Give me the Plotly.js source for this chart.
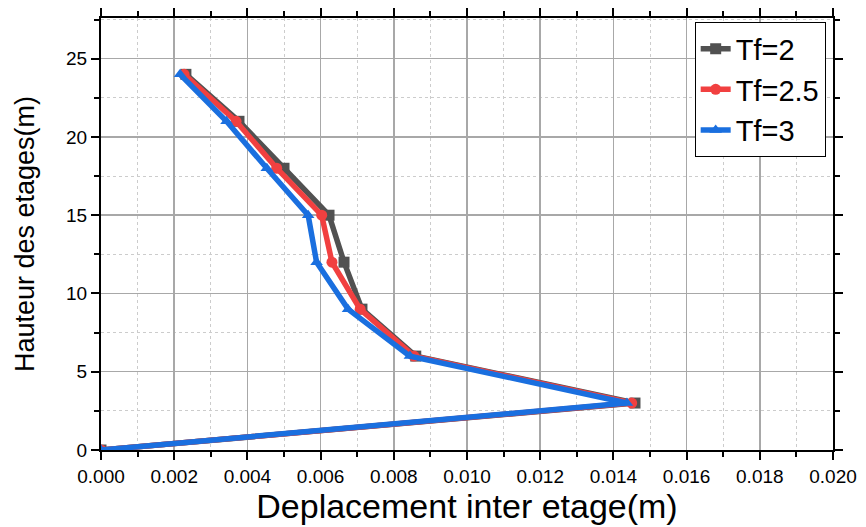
<!DOCTYPE html>
<html>
<head>
<meta charset="utf-8">
<script src="https://cdn.plot.ly/plotly-3.0.1.min.js"></script>
<style>html,body{margin:0;padding:0;background:#fff;}#chart{width:866px;height:527px;}</style>
</head>
<body>
<div id="chart"></div>
<script>
const heights = [0, 3, 6, 9, 12, 15, 18, 21, 24];
const tf2   = [0, 0.01459, 0.0086, 0.00713, 0.00664, 0.00623, 0.0050, 0.00377, 0.00232];
const tf25  = [0, 0.0145, 0.00855, 0.00708, 0.00631, 0.00603, 0.0048, 0.00369, 0.00227];
const tf3   = [0, 0.01437, 0.00844, 0.00675, 0.00589, 0.00566, 0.00453, 0.00343, 0.00216];
const seriesNames = ['Tf=2', 'Tf=2.5', 'Tf=3'];
const colors = ['#515151', '#F14040', '#1A6FDF'];
const symbols = ['square', 'circle', 'triangle-up'];
const xTickVals = [0, 0.002, 0.004, 0.006, 0.008, 0.010, 0.012, 0.014, 0.016, 0.018, 0.020];
const xTickText = ['0.000','0.002','0.004','0.006','0.008','0.010','0.012','0.014','0.016','0.018','0.020'];
const yTickVals = [0, 5, 10, 15, 20, 25];

const allX = [tf2, tf25, tf3];
const traces = allX.map((xs, i) => ({
  x: xs, y: heights, name: seriesNames[i], type: 'scatter', mode: 'lines+markers',
  line: {color: colors[i], width: 5.5},
  marker: {symbol: symbols[i], size: 11, color: colors[i]}
}));

const font = 'Arial, "Liberation Sans", sans-serif';
const layout = {
  width: 866, height: 527,
  margin: {l: 101, r: 33, t: 18, b: 77},
  paper_bgcolor: '#fff', plot_bgcolor: '#fff',
  font: {family: font, color: '#000'},
  showlegend: true,
  legend: {
    x: 0.99, y: 0.99, xanchor: 'right', yanchor: 'top',
    bgcolor: '#fff', bordercolor: '#000', borderwidth: 1,
    font: {size: 29, family: font}
  },
  xaxis: {
    range: [0, 0.020], tickvals: xTickVals, ticktext: xTickText,
    showline: true, linecolor: '#000', linewidth: 2, mirror: 'allticks',
    ticks: 'outside', ticklen: 8, tickwidth: 2, tickcolor: '#000',
    tickfont: {size: 19, family: font},
    showgrid: true, gridcolor: '#a8a8a8', gridwidth: 1.5, zeroline: false,
    minor: {dtick: 0.001, tick0: 0, ticks: 'outside', ticklen: 5, tickwidth: 2, tickcolor: '#000',
            showgrid: true, gridcolor: '#cccccc', griddash: 'dot', gridwidth: 1},
    title: {text: 'Deplacement inter etage(m)', font: {size: 34, family: font}, standoff: 8}
  },
  yaxis: {
    range: [0, 27.6], tickvals: yTickVals,
    showline: true, linecolor: '#000', linewidth: 2, mirror: 'allticks',
    ticks: 'outside', ticklen: 8, tickwidth: 2, tickcolor: '#000',
    tickfont: {size: 19, family: font},
    showgrid: true, gridcolor: '#a8a8a8', gridwidth: 1.5, zeroline: false,
    minor: {dtick: 2.5, tick0: 0, ticks: 'outside', ticklen: 5, tickwidth: 2, tickcolor: '#000',
            showgrid: true, gridcolor: '#cccccc', griddash: 'dot', gridwidth: 1},
    title: {text: 'Hauteur des etages(m)', font: {size: 27, family: font}, standoff: 24}
  }
};
Plotly.newPlot('chart', traces, layout, {displayModeBar: false, staticPlot: true});
</script>
</body>
</html>
